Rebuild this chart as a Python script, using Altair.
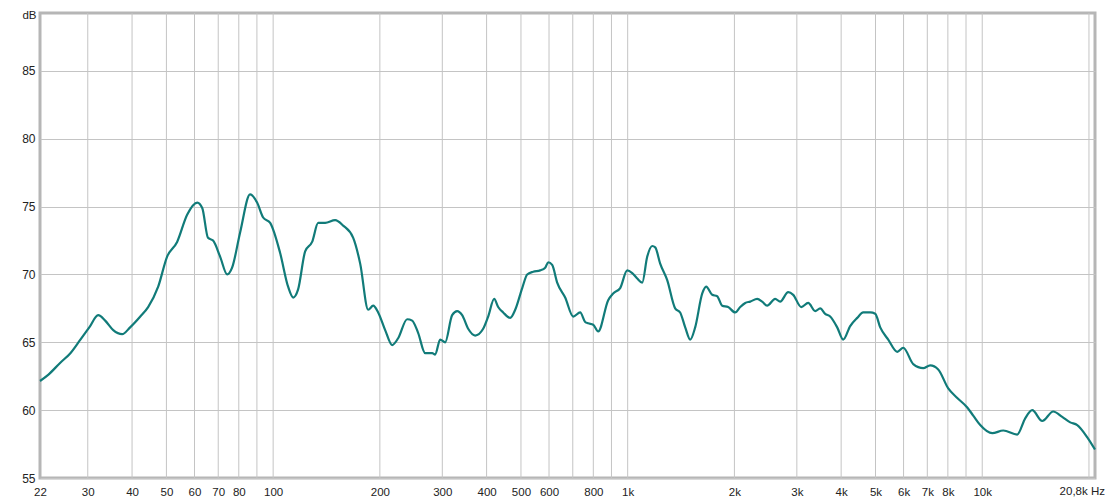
import altair as alt
import pandas as pd

# Frequency response (Hz, dB)
freq_hz = [22, 23.2, 25.1, 26.8, 28.6, 30.3, 32.1, 33.6, 35.4, 37.5, 39.5, 42.2, 44.4, 47.4,
           50.2, 53.6, 57.2, 61.1, 63.1, 65.5, 67.7, 70.9, 74.2, 76.6, 80.7, 86.1, 90.1, 93.7,
           98.1, 104.6, 110.2, 113.9, 117.6, 123.1, 128.8, 134.0, 140.2, 149.6, 157.6, 168.2,
           176.0, 185.4, 191.5, 197.8, 207.0, 216.6, 225.2, 238.8, 246.7, 256.4, 268.4, 281.0,
           286.4, 295.9, 305.6, 319.8, 330.4, 341.3, 354.9, 371.4, 391.2, 404.1, 420.2, 431.2,
           445.5, 466.3, 481.7, 504.1, 520.7, 541.3, 566.5, 585.2, 596.7, 612.4, 632.6, 666.3,
           702.0, 734.5, 758.8, 773.7, 799.3, 825.7, 881.0, 910.1, 952.5, 996.8, 1030, 1064,
           1099, 1135, 1173, 1196, 1235, 1292, 1361, 1406, 1453, 1501, 1550, 1623, 1665, 1731,
           1788, 1847, 1920, 2011, 2077, 2146, 2216, 2319, 2395, 2474, 2606, 2692, 2836, 2930,
           3086, 3230, 3380, 3491, 3606, 3725, 3899, 4054, 4242, 4440, 4616, 4831, 4991, 5156,
           5431, 5758, 5987, 6389, 6818, 7134, 7515, 8019, 8503, 9073, 9432, 9871, 10672,
           11464, 12551, 13220, 13836, 14762, 15857, 16812, 17710, 18535, 19783, 20800]
level_db = [62.15, 62.6, 63.5, 64.2, 65.2, 66.1, 67.0, 66.6, 65.9, 65.6, 66.1, 66.9, 67.6, 69.1,
            71.3, 72.4, 74.4, 75.3, 74.9, 72.7, 72.5, 71.3, 70.0, 70.5, 73.1, 75.9, 75.3, 74.2,
            73.8, 71.6, 69.1, 68.3, 68.9, 71.7, 72.4, 73.8, 73.8, 74.0, 73.6, 72.7,
            70.8, 67.4, 67.7, 67.2, 65.9, 64.8, 65.3, 66.7, 66.6, 65.7, 64.2, 64.2,
            64.1, 65.2, 65.0, 67.0, 67.3, 67.0, 66.0, 65.5, 66.0, 66.9, 68.2, 67.6,
            67.2, 66.8, 67.4, 69.0, 70.0, 70.2, 70.3, 70.5, 70.9, 70.7, 69.4, 68.3,
            66.9, 67.2, 66.5, 66.4, 66.3, 65.8, 68.1, 68.6, 69.0, 70.3, 70.1, 69.7,
            69.4, 71.3, 72.1, 72.0, 70.8, 69.6, 67.5, 67.2, 66.1, 65.2, 66.1, 68.6, 69.1, 68.5,
            68.4, 67.7, 67.6, 67.2, 67.6, 67.9, 68.0, 68.2, 68.0, 67.7, 68.2, 68.0, 68.7, 68.5,
            67.6, 67.9, 67.3, 67.5, 67.1, 66.9, 66.1, 65.2, 66.2, 66.8, 67.2, 67.2, 67.1, 66.1,
            65.2, 64.3, 64.6, 63.4, 63.1, 63.3, 63.0, 61.6, 60.9, 60.2, 59.6, 58.9, 58.3,
            58.5, 58.2, 59.4, 60.0, 59.2, 59.9, 59.5, 59.1, 58.9, 58.0, 57.1]

grid_x = [30, 40, 50, 60, 70, 80, 90, 100, 200, 300, 400, 500, 600, 700, 800, 900,
          1000, 2000, 3000, 4000, 5000, 6000, 7000, 8000, 9000, 10000, 20000]
label_x_vals = [22, 30, 40, 50, 60, 70, 80, 100, 200, 300, 400, 500, 600, 800,
                1000, 2000, 3000, 4000, 5000, 6000, 7000, 8000, 10000]
label_x_text = ["22", "30", "40", "50", "60", "70", "80", "100", "200", "300", "400", "500",
                "600", "800", "1k", "2k", "3k", "4k", "5k", "6k", "7k", "8k", "10k"]
end_label_val = [20800]
end_label_text = ["20,8k Hz"]
y_ticks = [55, 60, 65, 70, 75, 80, 85]

X_DOMAIN = [22, 20800]
Y_DOMAIN = [55, 89.27]

df = pd.DataFrame({"f": freq_hz, "db": level_db})
gdf = pd.DataFrame({"f": grid_x})
edf = pd.DataFrame({"f": end_label_val, "t": end_label_text, "db": [Y_DOMAIN[0]]})

label_expr = ""
for v, t in zip(label_x_vals, label_x_text):
    label_expr += f"datum.value == {v} ? '{t}' : "
label_expr += "''"

FONT = "Liberation Sans"
TXT = "#222222"

xscale = alt.Scale(type="log", domain=X_DOMAIN, nice=False, zero=False)
yscale = alt.Scale(domain=Y_DOMAIN, nice=False, zero=False)

x_axis = alt.Axis(values=label_x_vals, labelExpr=label_expr, grid=False, ticks=False,
                  domain=False, title=None, labelFont=FONT, labelFontSize=11.5,
                  labelColor=TXT, labelPadding=8, labelFlush=False,
                  labelOverlap=False)
y_axis = alt.Axis(values=y_ticks, grid=True, gridColor="#c4c4c4", gridWidth=1,
                  ticks=False, domain=False, labelFont=FONT, labelFontSize=12,
                  labelColor=TXT, labelPadding=5, labelFlush=False,
                  title="dB", titleAngle=0, titleX=-11, titleY=2,
                  titleAlign="center", titleBaseline="middle", titleFont=FONT,
                  titleFontSize=11.5, titleFontWeight="normal", titleColor=TXT)

grid = alt.Chart(gdf).mark_rule(color="#c4c4c4", strokeWidth=1).encode(
    x=alt.X("f:Q", scale=xscale, axis=x_axis),
)

line = alt.Chart(df).mark_line(color="#117b79", strokeWidth=2.2, interpolate="monotone").encode(
    x=alt.X("f:Q", scale=xscale, axis=x_axis),
    y=alt.Y("db:Q", scale=yscale, axis=y_axis),
)

end_label = alt.Chart(edf).mark_text(
    font=FONT, fontSize=11.5, color=TXT, align="right", baseline="middle", dx=10, dy=14
).encode(
    x=alt.X("f:Q", scale=xscale, axis=x_axis),
    y=alt.Y("db:Q", scale=yscale, axis=y_axis),
    text="t:N",
)

chart = alt.layer(grid, line, end_label).properties(
    width=1055, height=465,
    autosize=alt.AutoSizeParams(type="none"),
    padding={"left": 32, "top": 5, "right": 11, "bottom": 20},
    background="white",
).configure_view(stroke="#b6b6b6", strokeWidth=3)

chart.save("out.html", embed_options={"renderer": "svg", "actions": False})
